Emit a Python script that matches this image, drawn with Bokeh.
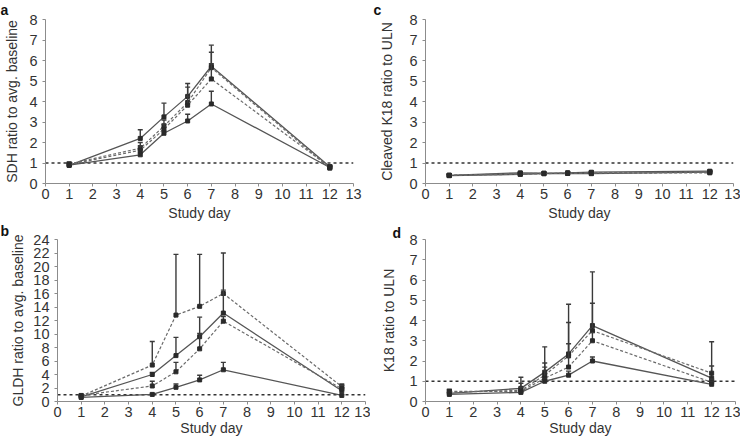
from bokeh.plotting import figure
from bokeh.layouts import row, column
from bokeh.models import Title, FixedTicker
from bokeh.embed import file_html
from bokeh.resources import INLINE

FONT = "Liberation Sans"

days = [1, 4, 5, 6, 7, 12]
x_ticks = list(range(0, 14))
x_title = "Study day"

# Panel a: SDH ratio to avg. baseline
a1_val = [0.88, 2.20, 3.25, 4.25, 5.72, 0.82]
a1_hi = [1.00, 2.62, 3.92, 4.88, 6.75, 0.90]
a2_val = [0.90, 1.40, 2.45, 3.05, 3.88, 0.78]
a2_hi = [0.98, 1.50, 2.55, 3.38, 4.50, 0.85]
a3_val = [0.95, 1.72, 2.80, 3.95, 5.65, 0.75]
a3_hi = [1.05, 2.00, 3.10, 4.70, 6.40, 0.82]
a4_val = [0.92, 1.62, 2.65, 3.82, 5.10, 0.80]
a4_hi = [1.00, 1.85, 2.90, 4.25, 5.85, 0.88]

# Panel b: GLDH ratio to avg. baseline
b1_val = [0.80, 5.40, 12.80, 14.10, 16.00, 2.20]
b1_hi = [1.00, 8.90, 21.80, 21.80, 22.00, 2.60]
b2_val = [0.70, 4.00, 6.80, 9.60, 13.10, 1.60]
b2_hi = [0.90, 4.30, 9.50, 12.50, 16.50, 2.00]
b3_val = [0.90, 2.30, 4.40, 7.80, 11.90, 1.90]
b3_hi = [1.10, 3.00, 5.80, 10.10, 12.60, 2.40]
b4_val = [0.60, 1.05, 2.10, 3.20, 4.70, 0.90]
b4_hi = [0.80, 1.20, 2.60, 3.90, 5.80, 1.00]

# Panel c: Cleaved K18 ratio to ULN
c1_val = [0.40, 0.52, 0.50, 0.52, 0.55, 0.60]
c1_hi = [0.45, 0.57, 0.54, 0.56, 0.60, 0.66]
c2_val = [0.38, 0.45, 0.48, 0.50, 0.48, 0.55]
c2_hi = [0.42, 0.50, 0.52, 0.54, 0.53, 0.60]
c3_val = [0.40, 0.48, 0.50, 0.50, 0.52, 0.56]
c3_hi = [0.44, 0.53, 0.54, 0.54, 0.57, 0.61]
c4_val = [0.40, 0.45, 0.48, 0.50, 0.50, 0.52]
c4_hi = [0.44, 0.50, 0.52, 0.54, 0.55, 0.57]

# Panel d: K18 ratio to ULN
d1_val = [0.40, 0.65, 1.45, 2.35, 3.75, 1.15]
d1_hi = [0.55, 1.20, 2.70, 4.80, 6.40, 1.75]
d2_val = [0.45, 0.55, 1.30, 2.25, 3.50, 1.40]
d2_hi = [0.60, 0.90, 1.90, 3.90, 4.85, 2.95]
d3_val = [0.50, 0.50, 1.15, 1.70, 3.00, 0.95]
d3_hi = [0.60, 0.70, 1.70, 2.85, 3.40, 1.10]
d4_val = [0.35, 0.45, 1.00, 1.30, 2.00, 0.85]
d4_hi = [0.45, 0.55, 1.10, 1.50, 2.20, 0.95]

AXIS_COLOR = "#8c8c8c"
TEXT_COLOR = "#333333"
LINE_COLOR = "#555555"
DASH_COLOR = "#6a6a6a"
BAR_COLOR = "#3a3a3a"


def make_panel(series, ylabel, ymax, ystep, letter, letter_dx, letter_valign,
               letter_standoff, width, height, bl, br, bt, bb, ystand, xstand):
    p = figure(width=width, height=height, x_range=(0, 13), y_range=(0, ymax),
               output_backend="svg", toolbar_location=None,
               min_border_left=bl, min_border_right=br,
               min_border_top=bt, min_border_bottom=bb)
    p.outline_line_color = None
    p.background_fill_color = "white"
    p.border_fill_color = "white"
    p.grid.visible = False
    for ax in (p.xaxis[0], p.yaxis[0]):
        ax.axis_line_color = AXIS_COLOR
        ax.major_tick_line_color = AXIS_COLOR
        ax.minor_tick_line_color = None
        ax.major_tick_out = 3
        ax.major_tick_in = 0
        ax.major_label_text_font = FONT
        ax.major_label_text_font_size = "14.5px"
        ax.major_label_text_color = TEXT_COLOR
        ax.axis_label_text_font = FONT
        ax.axis_label_text_font_size = "14px"
        ax.axis_label_text_font_style = "normal"
        ax.axis_label_text_color = TEXT_COLOR
    p.xaxis[0].major_label_standoff = 2
    p.yaxis[0].major_label_standoff = 5
    p.xaxis[0].ticker = FixedTicker(ticks=x_ticks)
    p.yaxis[0].ticker = FixedTicker(ticks=list(range(0, ymax + 1, ystep)))
    p.xaxis[0].axis_label = x_title
    p.xaxis[0].axis_label_standoff = xstand
    p.yaxis[0].axis_label = ylabel
    p.yaxis[0].axis_label_standoff = ystand

    # panel letter as a left-aligned title
    p.title = Title(text=letter, align="left", offset=letter_dx,
                    standoff=letter_standoff, vertical_align=letter_valign,
                    text_font=FONT, text_font_size="14px", text_font_style="bold",
                    text_color="#111111")

    # reference line at 1
    p.line([0, 13], [1, 1], line_color="#333333", line_width=1.5, line_dash="3 3")

    for vals, hi, dashed in series:
        if dashed:
            p.line(days, vals, line_color=DASH_COLOR, line_width=1.2, line_dash="3 2")
        else:
            p.line(days, vals, line_color=LINE_COLOR, line_width=1.3)
        p.segment(days, vals, days, hi, line_color=BAR_COLOR, line_width=1.4)
        p.scatter(days, hi, marker="dash", size=5, line_color=BAR_COLOR, line_width=1.4)
        p.scatter(days, vals, marker="square", size=4, fill_color="#2a2a2a",
                  line_color="#2a2a2a")
    return p


W = 370
HT, HB = 223, 221

pa = make_panel([(a1_val, a1_hi, False), (a2_val, a2_hi, False),
                 (a3_val, a3_hi, True), (a4_val, a4_hi, True)],
                "SDH ratio to avg. baseline", 8, 1, "a", -45, "top", 0,
                W, HT, 45, 17, 19, 40, 6, 3)
pc = make_panel([(c1_val, c1_hi, False), (c2_val, c2_hi, False),
                 (c3_val, c3_hi, True), (c4_val, c4_hi, True)],
                "Cleaved K18 ratio to ULN", 8, 1, "c", -52, "top", 0,
                W, HT, 55, 7, 19, 40, 11, 3)
pb = make_panel([(b1_val, b1_hi, True), (b2_val, b2_hi, False),
                 (b3_val, b3_hi, True), (b4_val, b4_hi, False)],
                "GLDH ratio to avg. baseline", 24, 2, "b", -57, "top", -2,
                W, HB, 57, 5, 15, 43, 4, 0)
pd_ = make_panel([(d1_val, d1_hi, False), (d2_val, d2_hi, True),
                  (d3_val, d3_hi, True), (d4_val, d4_hi, False)],
                 "K18 ratio to ULN", 8, 1, "d", -33, "bottom", -2,
                 W, HB, 55, 5, 15, 43, 9, 0)

layout = column(row(pa, pc), row(pb, pd_))

open("out.html", "w").write(file_html(layout, INLINE))
